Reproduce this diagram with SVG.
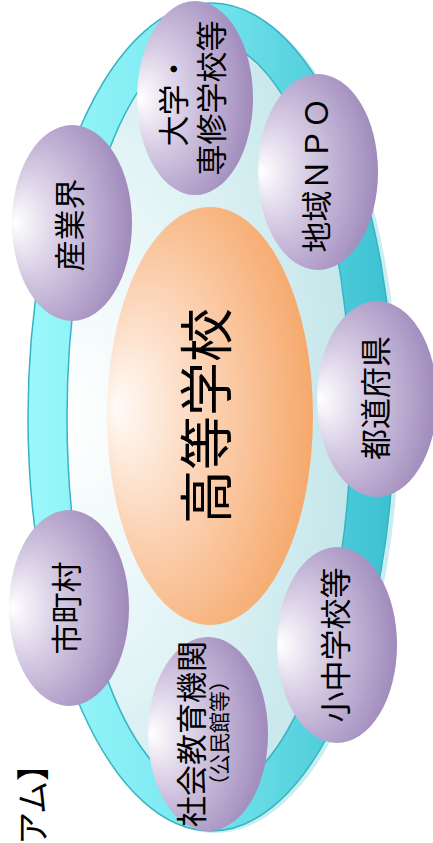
<svg xmlns="http://www.w3.org/2000/svg" width="433" height="843" viewBox="0 0 433 843">
  <defs>
    <linearGradient id="ringGrad" x1="0" y1="0" x2="1" y2="0">
      <stop offset="0" stop-color="#9af8fb"/>
      <stop offset="0.45" stop-color="#7ae8f0"/>
      <stop offset="1" stop-color="#3bc0d1"/>
    </linearGradient>
    <radialGradient id="innerGrad" cx="0.35" cy="0.5" r="0.75" fx="0.02" fy="0.5">
      <stop offset="0" stop-color="#ffffff"/>
      <stop offset="0.45" stop-color="#e3f4f6"/>
      <stop offset="1" stop-color="#bde3e8"/>
    </radialGradient>
    <radialGradient id="orangeGrad" cx="0.4" cy="0.5" r="0.68" fx="0.04" fy="0.48">
      <stop offset="0" stop-color="#fffbf7"/>
      <stop offset="0.4" stop-color="#fcd6ba"/>
      <stop offset="1" stop-color="#f5a260"/>
    </radialGradient>
    <radialGradient id="purpleGrad" cx="0.38" cy="0.5" r="0.7" fx="0.02" fy="0.5">
      <stop offset="0" stop-color="#ffffff"/>
      <stop offset="0.35" stop-color="#d9cfe6"/>
      <stop offset="1" stop-color="#9881b6"/>
    </radialGradient>
    <style>
      .ring { fill: url(#ringGrad); stroke: #39b3c4; stroke-width: 1.5; }
      .inner { fill: url(#innerGrad); stroke: #39b3c4; stroke-width: 1.5; }
      .core { fill: url(#orangeGrad); }
      .node { fill: url(#purpleGrad); }
      .t { font-family: "Noto Sans CJK JP", "Noto Sans", sans-serif; fill: #000; text-anchor: middle; dominant-baseline: central; }
      .n { font-size: 31px; }
      .s { font-size: 21px; }
      .big { font-size: 54px; }
    </style>
  </defs>

  <g id="backdrop">
    <ellipse cx="215" cy="419" rx="184" ry="414" fill="#c8eef2"/>
    <ellipse class="ring" cx="211" cy="417" rx="183" ry="414"/>
    <ellipse class="inner" cx="209" cy="417" rx="142" ry="376"/>
  </g>

  <g id="connectors"/>

  <g id="koutou-gakkou">
    <ellipse class="core" cx="210" cy="416" rx="103" ry="209"/>
    <text class="t big" x="203" y="416" transform="rotate(-90 203 416)">高等学校</text>
  </g>

  <g id="daigaku">
    <ellipse class="node" cx="195" cy="98" rx="58" ry="97"/>
    <text class="t n" x="171" y="100" transform="rotate(-90 171 100)">大学・</text>
    <text class="t n" x="209" y="98" transform="rotate(-90 209 98)">専修学校等</text>
  </g>

  <g id="chiiki-npo">
    <ellipse class="node" cx="318" cy="172" rx="60" ry="98"/>
    <text class="t n" x="314" y="175" transform="rotate(-90 314 175)">地域ＮＰＯ</text>
  </g>

  <g id="todoufuken">
    <ellipse class="node" cx="377" cy="399" rx="60" ry="98"/>
    <text class="t n" x="373" y="398" transform="rotate(-90 373 398)">都道府県</text>
  </g>

  <g id="shouchuu">
    <ellipse class="node" cx="337" cy="645" rx="60" ry="98"/>
    <text class="t n" x="333" y="645" transform="rotate(-90 333 645)">小中学校等</text>
  </g>

  <g id="shakai-kyouiku">
    <ellipse class="node" cx="208" cy="734" rx="60" ry="97"/>
    <text class="t n" x="189" y="734" transform="rotate(-90 189 734)">社会教育機関</text>
    <text class="t s" x="218" y="733" transform="rotate(-90 218 733)">（公民館等）</text>
  </g>

  <g id="shichouson">
    <ellipse class="node" cx="69" cy="608" rx="60" ry="98"/>
    <text class="t n" x="64" y="608" transform="rotate(-90 64 608)">市町村</text>
  </g>

  <g id="sangyoukai">
    <ellipse class="node" cx="72" cy="223" rx="60" ry="98"/>
    <text class="t n" x="67" y="225" transform="rotate(-90 67 225)">産業界</text>
  </g>

  <g id="title">
    <text class="t" style="font-size:33px; text-anchor:end;" x="31" y="748" transform="rotate(-90 31 748)">アム】</text>
  </g>
</svg>
